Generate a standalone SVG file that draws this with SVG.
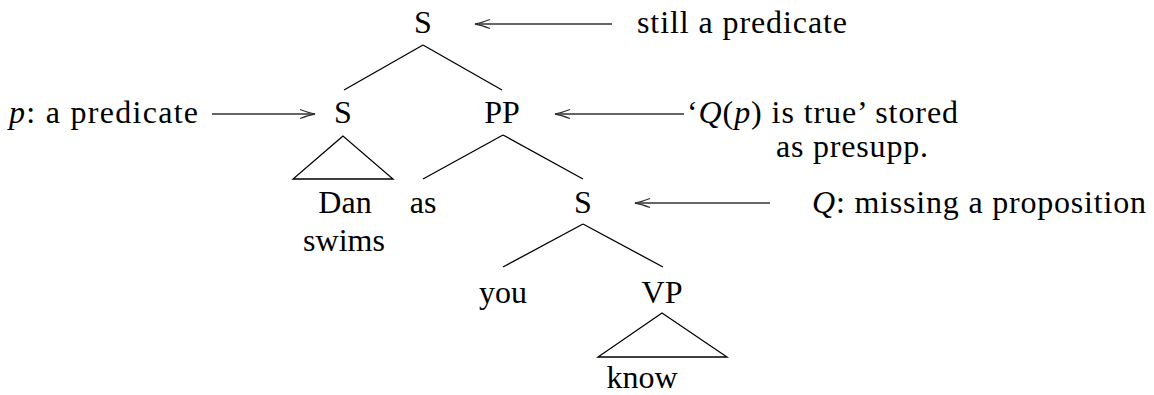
<svg xmlns="http://www.w3.org/2000/svg" width="1154" height="395" viewBox="0 0 1154 395">
<style>
text{font-family:Liberation Serif,Times New Roman,Times,Tinos,Noto Serif,DejaVu Serif,FreeSerif,serif;font-size:32px;fill:#000}
.n{text-anchor:middle}
.i{font-style:italic}
.e{fill:none;stroke:#000;stroke-width:1.3}
.a{fill:none;stroke:#333;stroke-width:1.3}
</style>
<defs>
<marker id="arr" markerUnits="userSpaceOnUse" markerWidth="17" markerHeight="12" refX="15" refY="6" orient="auto" overflow="visible">
<path d="M0,1.5 Q9,5 15,6 Q9,7 0,10.5" fill="none" stroke="#333" stroke-width="1.3"/>
</marker>
</defs>
<g id="connectors">
<line class="e" x1="423" y1="45" x2="344" y2="90"/>
<line class="e" x1="423" y1="45" x2="502" y2="90"/>
<polygon class="e" points="343,136 293,179 393,179"/>
<line class="e" x1="503" y1="135" x2="423" y2="179"/>
<line class="e" x1="503" y1="135" x2="583" y2="179"/>
<line class="e" x1="583" y1="224" x2="503" y2="267"/>
<line class="e" x1="583" y1="224" x2="663" y2="267"/>
<polygon class="e" points="662,313 598,357 727,357"/>
<line class="a" x1="612" y1="24" x2="475" y2="24" marker-end="url(#arr)"/>
<line class="a" x1="212" y1="114" x2="315" y2="114" marker-end="url(#arr)"/>
<line class="a" x1="684" y1="114" x2="555" y2="114" marker-end="url(#arr)"/>
<line class="a" x1="770" y1="203" x2="635" y2="203" marker-end="url(#arr)"/>
</g>
<g id="n-S-top"><text class="n" x="423" y="33">S</text></g>
<g id="n-S-left"><text class="n" x="343" y="123">S</text></g>
<g id="n-PP"><text class="n" x="502" y="123">PP</text></g>
<g id="n-dan-swims"><text class="n" x="345" y="213">Dan</text><text class="n" x="344" y="251">swims</text></g>
<g id="n-as"><text class="n" x="423" y="213">as</text></g>
<g id="n-S-low"><text class="n" x="583" y="213">S</text></g>
<g id="n-you"><text class="n" x="503" y="303">you</text></g>
<g id="n-VP"><text class="n" x="662" y="303">VP</text></g>
<g id="n-know"><text class="n" x="642" y="388">know</text></g>
<g id="l-still"><text x="637" y="33" textLength="210" lengthAdjust="spacing">still a predicate</text></g>
<g id="l-p"><text x="9" y="123" textLength="189" lengthAdjust="spacing"><tspan class="i">p</tspan>: a predicate</text></g>
<g id="l-Qp"><text x="687" y="123" textLength="271" lengthAdjust="spacing">‘<tspan class="i">Q</tspan>(<tspan class="i">p</tspan>) is true’ stored</text><text x="776" y="157" textLength="152" lengthAdjust="spacing">as presupp.</text></g>
<g id="l-Q"><text x="812" y="213" textLength="334" lengthAdjust="spacing"><tspan class="i">Q</tspan>: missing a proposition</text></g>
</svg>
